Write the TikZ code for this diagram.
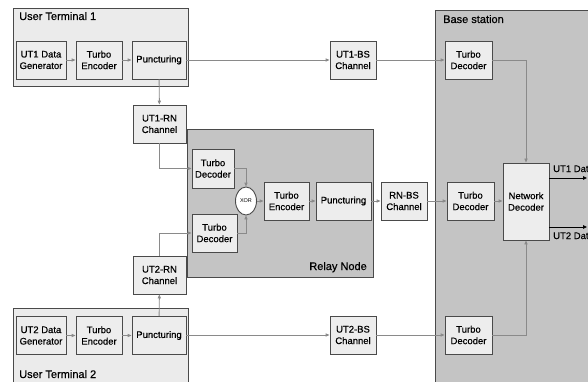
\documentclass[tikz,border=0pt]{standalone}
\usepackage{fontspec}
\setmainfont{Liberation Sans}
\newfontfamily\diagfont{Liberation Sans}[FakeBold=0.5]
\usetikzlibrary{arrows.meta,shapes.geometric}
\definecolor{edgec}{HTML}{4A4A4A}
\definecolor{boxfill}{HTML}{EDEDED}
\definecolor{termfill}{HTML}{EBEBEB}
\definecolor{darkfill}{HTML}{C4C4C4}
\definecolor{linec}{HTML}{8A8A8A}
\tikzset{
  blk/.style={draw=edgec, line width=0.9pt, fill=boxfill, align=center,
    inner sep=0pt, font=\diagfont\fontsize{9.5}{11.5}\selectfont},
  container/.style={draw=edgec, line width=0.9pt, inner sep=0pt},
  title/.style={inner sep=0pt, font=\diagfont\fontsize{11}{12}\selectfont},
  conn/.style={draw=linec, line width=0.9pt, -{Triangle[length=4pt,width=3.2pt]}},
  outarrow/.style={draw=black, line width=0.9pt, -{Triangle[length=4pt,width=3.5pt]}},
  outlabel/.style={inner sep=0pt, font=\diagfont\fontsize{9.5}{11}\selectfont},
}
\begin{document}
\begin{tikzpicture}[x=1pt,y=-1pt]
\useasboundingbox (0,0) rectangle (588,382);
\clip (0,0) rectangle (588,382);
\fill[white] (0,0) rectangle (588,382);

% containers
\node[container, fill=termfill, minimum width=175, minimum height=78, anchor=north west] (ut1) at (13,8) {};
\node[title, anchor=base west] (ut1t) at (19,20) {User Terminal 1};
\node[container, fill=termfill, minimum width=175, minimum height=100, anchor=north west] (ut2) at (13,308) {};
\node[title, anchor=base west] (ut2t) at (19,378) {User Terminal 2};
\node[container, fill=darkfill, minimum width=186, minimum height=148, anchor=north west] (rn) at (187,129) {};
\node[title, anchor=base east] (rnt) at (367,270) {Relay Node};
\node[container, fill=darkfill, minimum width=200, minimum height=400, anchor=north west] (bs) at (435,10) {};
\node[title, anchor=base west] (bst) at (443,23) {Base station};

% user terminal 1
\node[blk, minimum width=50, minimum height=38] (g1) at (41,60) {UT1 Data\\Generator};
\node[blk, minimum width=46, minimum height=38] (e1) at (99,60) {Turbo\\Encoder};
\node[blk, minimum width=54, minimum height=38] (p1) at (159,60) {Puncturing};
\node[blk, minimum width=46, minimum height=38] (c1bs) at (353,60) {UT1-BS\\Channel};
\node[blk, minimum width=53, minimum height=38] (c1rn) at (159.5,124) {UT1-RN\\Channel};

% user terminal 2
\node[blk, minimum width=50, minimum height=38] (g2) at (41,335.5) {UT2 Data\\Generator};
\node[blk, minimum width=46, minimum height=38] (e2) at (99,335.5) {Turbo\\Encoder};
\node[blk, minimum width=54, minimum height=38] (p2) at (159,335.5) {Puncturing};
\node[blk, minimum width=46, minimum height=38] (c2bs) at (353,335) {UT2-BS\\Channel};
\node[blk, minimum width=53, minimum height=38] (c2rn) at (159.5,275) {UT2-RN\\Channel};

% relay node
\node[blk, minimum width=42, minimum height=39] (rd1) at (213,168.5) {Turbo\\Decoder};
\node[blk, minimum width=45, minimum height=38] (rd2) at (214.5,233) {Turbo\\Decoder};
\node[draw=edgec, line width=0.9pt, fill=white, ellipse, minimum width=21, minimum height=28,
  inner sep=0pt, font=\fontsize{5.5}{6}\selectfont] (xor) at (246,201) {XOR};
\node[blk, minimum width=45, minimum height=38] (re) at (286.5,201) {Turbo\\Encoder};
\node[blk, minimum width=55, minimum height=38] (rp) at (343.5,201) {Puncturing};
\node[blk, minimum width=46, minimum height=38] (rnbs) at (404,201) {RN-BS\\Channel};

% base station
\node[blk, minimum width=47, minimum height=38] (d1) at (468.5,60) {Turbo\\Decoder};
\node[blk, minimum width=47, minimum height=38] (d2) at (470.5,201) {Turbo\\Decoder};
\node[blk, minimum width=47, minimum height=38] (d3) at (468.5,335) {Turbo\\Decoder};
\node[blk, minimum width=46, minimum height=77] (nd) at (526,201.5) {Network\\Decoder};
\coordinate (o1) at (587,178);
\coordinate (o2) at (587,227);

% connectors UT1
\draw[conn] (g1) -- (e1);
\draw[conn] (e1) -- (p1);
\draw[conn] (p1) -- (c1bs);
\draw[conn] (c1bs) -- (d1);
\draw[conn] (p1) -- (c1rn);
\draw[conn] (c1rn.south) |- (rd1.west);
% connectors UT2
\draw[conn] (g2) -- (e2);
\draw[conn] (e2) -- (p2);
\draw[conn] (p2.east |- c2bs.west) -- (c2bs);
\draw[conn] (c2bs) -- (d3);
\draw[conn] (p2) -- (c2rn);
\draw[conn] (c2rn.north) |- (rd2.west);
% relay
\draw[conn] (rd1.east) -| (xor.north);
\draw[conn] (rd2.east) -| (xor.south);
\draw[conn] (xor) -- (re);
\draw[conn] (re) -- (rp);
\draw[conn] (rp) -- (rnbs);
\draw[conn] (rnbs) -- (d2);
\draw[conn] (d2) -- (nd.west |- d2.east);
% base station
\draw[conn] (d1.east) -| (nd.north);
\draw[conn] (d3.east) -| (nd.south);
\draw[outarrow] (nd.east |- o1) -- (o1);
\draw[outarrow] (nd.east |- o2) -- (o2);
\node[outlabel, anchor=base west] (l1) at (553,172) {UT1 Data};
\node[outlabel, anchor=base west] (l2) at (553,239) {UT2 Data};
\end{tikzpicture}
\end{document}
